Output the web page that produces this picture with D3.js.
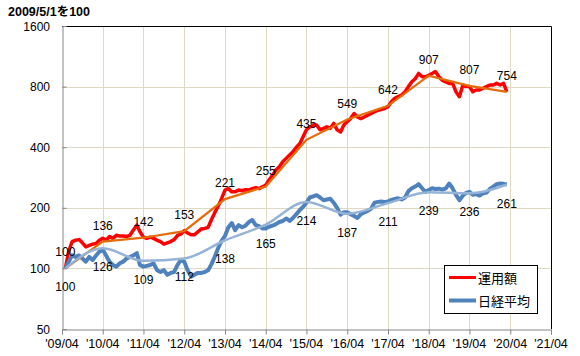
<!DOCTYPE html>
<html><head><meta charset="utf-8">
<script src="https://cdn.jsdelivr.net/npm/d3@7"></script>
<style>
html,body{margin:0;padding:0;background:#fff;}
svg{display:block;font-family:"Liberation Sans","Noto Sans CJK JP",Arial,sans-serif;}
</style></head>
<body>
<svg id="chart" width="580" height="356"></svg>
<script>
// ---- data (monthly, starting 2009/05) ----
const startMonth = "2009-05-01";
const fundValues = [100,122,136,138,139,134,128,130,132,133,138,141,138,144,141,146,145,145,144,146,
155,164,152,143,141,143,141,138,136,132,134,136,139,146,148,154,150,147,147,152,
157,158,160,175,190,205,222,245,249,240,240,245,243,246,245,249,252,249,254,259,
275,290,308,320,339,352,366,380,400,417,450,488,505,515,515,488,496,505,496,525,
488,476,515,535,555,588,565,555,565,577,588,600,610,616,623,636,673,700,713,727,
755,800,845,876,930,895,895,910,930,950,895,860,845,830,830,755,713,815,800,800,
755,770,770,785,800,815,815,830,815,830,754];
const nikkeiValues = [100,108,116,114,116,112,108,114,110,116,121,124,116,108,104,102,106,108,112,114,
116,119,104,102,103,104,106,98,96,98,93,95,96,104,110,108,98,91,93,95,
95,96,98,105,115,127,137,145,160,168,155,164,160,163,170,174,164,162,158,158,
161,163,166,170,172,177,172,178,186,195,202,212,225,228,231,225,218,220,222,212,
200,185,190,190,186,182,178,186,190,193,198,212,214,215,213,215,219,221,223,220,
225,242,250,255,262,250,240,245,250,248,249,246,250,264,250,232,218,230,237,240,
232,234,230,236,238,248,255,262,264,263,261];
// yearly checkpoints (labels)
const checkDates = ["2009-05-01","2010-04-01","2011-04-01","2012-04-01","2013-04-01","2014-04-01",
  "2015-04-01","2016-04-01","2017-04-01","2018-04-01","2019-04-01","2020-03-01"];
const fundCheck = [100,136,142,153,221,255,435,549,642,907,807,754];
const nikkeiCheck = [100,126,109,112,138,165,214,187,211,239,236,261];
const yTicks = [50,100,200,400,800,1600];
const xTickLabels = ["'09/04","'10/04","'11/04","'12/04","'13/04","'14/04","'15/04","'16/04","'17/04","'18/04","'19/04","'20/04","'21/04"];
const seriesNames = ["運用額","日経平均"];
const yTitle = "2009/5/1を100";

// ---- setup ----
const svg = d3.select("#chart");
const parse = d3.timeParse("%Y-%m-%d");
const L = 62, R = 551, T = 26, B = 329;
const x = d3.scaleTime().domain([parse("2009-04-01"), parse("2021-04-01")]).range([L, R]);
const y = d3.scaleLog().domain([50, 1600]).range([B, T]);
const start = parse(startMonth);
const months = fundValues.map((_, i) => d3.timeMonth.offset(start, i));
const xTickDates = xTickLabels.map((_, i) => d3.timeYear.offset(parse("2009-04-01"), i));
const cDates = checkDates.map(parse);

// gridlines
const grid = svg.append("g").attr("stroke", "#ddd9c3").attr("stroke-width", 1);
xTickDates.slice(1, -1).forEach(d => {
  grid.append("line").attr("x1", Math.round(x(d)) + 0.5).attr("x2", Math.round(x(d)) + 0.5)
    .attr("y1", T).attr("y2", B);
});
yTicks.slice(1, -1).forEach(v => {
  grid.append("line").attr("y1", Math.round(y(v)) + 0.5).attr("y2", Math.round(y(v)) + 0.5)
    .attr("x1", L).attr("x2", R);
});

// border top/right (black)
svg.append("path").attr("d", `M${L},${T + 0.5}H${R + 0.5}V${B}`).attr("fill", "none")
  .attr("stroke", "#000").attr("stroke-width", 1);

// y axis
const yAxis = svg.append("g").attr("transform", `translate(${L + 0.5},0)`)
  .call(d3.axisRight(y).tickValues(yTicks).tickSize(4).tickFormat(""));
yAxis.select(".domain").attr("stroke", "#868686");
yAxis.selectAll(".tick line").attr("stroke", "#868686");
svg.append("g").selectAll("text").data(yTicks).join("text")
  .attr("x", 50).attr("y", d => y(d) + 4.5).attr("text-anchor", "end")
  .attr("font-size", 12).attr("fill", "#000").text(d => d);

// x axis
const xAxis = svg.append("g").attr("transform", `translate(0,${B + 0.5})`)
  .call(d3.axisBottom(x).tickValues(xTickDates).tickSize(5).tickFormat(""));
xAxis.select(".domain").attr("stroke", "#868686");
xAxis.selectAll(".tick line").attr("stroke", "#868686");
svg.append("g").selectAll("text").data(xTickLabels).join("text")
  .attr("x", (d, i) => x(xTickDates[i])).attr("y", 348).attr("text-anchor", "middle")
  .attr("font-size", 12.5).attr("fill", "#000").text(d => d);

// title
svg.append("text").attr("x", 8).attr("y", 16).attr("font-size", 12.5).attr("font-weight", "bold")
  .attr("fill", "#000").text(yTitle);

// lines
const line = d3.line().x(d => x(d[0])).y(d => y(d[1]));
svg.append("path").datum(months.map((d, i) => [d, fundValues[i]]))
  .attr("d", line).attr("fill", "none").attr("stroke", "#ff0000").attr("stroke-width", 3.5)
  .attr("stroke-linejoin", "round");
svg.append("path").datum(months.map((d, i) => [d, nikkeiValues[i]]))
  .attr("d", line).attr("fill", "none").attr("stroke", "#4f81bd").attr("stroke-width", 4)
  .attr("stroke-linejoin", "round");
svg.append("path").datum(cDates.map((d, i) => [d, fundCheck[i]]))
  .attr("d", line).attr("fill", "none").attr("stroke", "#e46c0a").attr("stroke-width", 2.25);
const smooth = d3.line().x(d => x(d[0])).y(d => y(d[1])).curve(d3.curveMonotoneX);
svg.append("path").datum(cDates.map((d, i) => [d, nikkeiCheck[i]]))
  .attr("d", smooth).attr("fill", "none").attr("stroke", "#95b3d7").attr("stroke-width", 2.5);

// value labels
svg.append("g").selectAll("text").data(fundCheck).join("text")
  .attr("x", (d, i) => x(cDates[i])).attr("y", d => y(d) - 12).attr("text-anchor", "middle")
  .attr("font-size", 12).attr("fill", "#000").text(d => d);
svg.append("g").selectAll("text").data(nikkeiCheck).join("text")
  .attr("x", (d, i) => x(cDates[i])).attr("y", d => y(d) + 23).attr("text-anchor", "middle")
  .attr("font-size", 12).attr("fill", "#000").text(d => d);

// legend
const lg = svg.append("g");
lg.append("rect").attr("x", 444.5).attr("y", 265.5).attr("width", 93).attr("height", 48)
  .attr("fill", "#fff").attr("stroke", "#000").attr("stroke-width", 1);
const legColors = ["#ff0000", "#4f81bd"], legW = [3, 4], legY = [277.5, 300.5];
seriesNames.forEach((n, i) => {
  lg.append("line").attr("x1", 449).attr("x2", 476).attr("y1", legY[i]).attr("y2", legY[i])
    .attr("stroke", legColors[i]).attr("stroke-width", legW[i]);
  lg.append("text").attr("x", 478).attr("y", legY[i] + 5).attr("font-size", 13)
    .attr("font-family", "'Noto Sans CJK JP',sans-serif").attr("fill", "#000").text(n);
});
</script>
</body></html>
